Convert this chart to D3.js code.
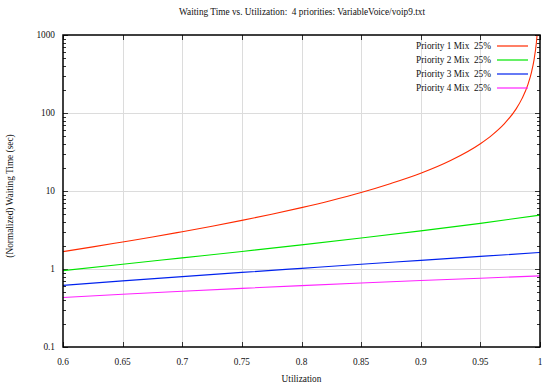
<!DOCTYPE html>
<html>
<head>
<meta charset="utf-8">
<script src="https://cdn.jsdelivr.net/npm/d3@7"></script>
<style>
  html, body { margin: 0; padding: 0; background: #fff; }
  svg { display: block; font-family: "Liberation Serif", "Times New Roman", serif; }
  svg text { white-space: pre; }
</style>
</head>
<body>
<svg id="chart" width="542" height="385"></svg>
<script>
// Mean waiting time per priority class versus server utilization
const utilRed = [0.60, 0.625, 0.65, 0.675, 0.70, 0.725, 0.75, 0.775, 0.80, 0.825, 0.85, 0.875,
                 0.90, 0.925, 0.95, 0.96, 0.97, 0.98, 0.985, 0.99, 0.993, 0.995, 0.997, 0.998];
const waitP1 = [1.67, 1.92, 2.22, 2.57, 3.01, 3.54, 4.20, 5.03, 6.12, 7.57, 9.57, 12.5,
                16.9, 24.6, 40.4, 52.5, 72.6, 113, 154, 235, 340, 480, 806, 1214];

const util = [0.60, 0.65, 0.70, 0.75, 0.80, 0.85, 0.90, 0.95, 1.00];
const waitP2 = [0.954, 1.15, 1.39, 1.68, 2.04, 2.50, 3.08, 3.85, 4.90];
const waitP3 = [0.617, 0.704, 0.799, 0.904, 1.02, 1.15, 1.29, 1.45, 1.63];
const waitP4 = [0.432, 0.475, 0.519, 0.565, 0.612, 0.661, 0.711, 0.762, 0.816];

const seriesNames = ["Priority 1 Mix  25%", "Priority 2 Mix  25%", "Priority 3 Mix  25%", "Priority 4 Mix  25%"];
const seriesColors = ["#ff2a00", "#00e600", "#0022ee", "#ff22ff"];

const xTicks = [0.6, 0.65, 0.7, 0.75, 0.8, 0.85, 0.9, 0.95, 1];
const xTickLabels = ["0.6", "0.65", "0.7", "0.75", "0.8", "0.85", "0.9", "0.95", "1"];
const yTicks = [0.1, 1, 10, 100, 1000];
const yTickLabels = ["0.1", "1", "10", "100", "1000"];

const titleText = "Waiting Time vs. Utilization:  4 priorities: VariableVoice/voip9.txt";
const xTitle = "Utilization";
const yTitle = "(Normalized) Waiting Time (sec)";

const FS = 9.3;
const svg = d3.select("#chart");
const L = 63, R = 540, T = 35, B = 347;

const x = d3.scaleLinear().domain([0.6, 1]).range([L, R]);
const y = d3.scaleLog().domain([0.1, 1000]).range([B, T]);

// minor log ticks 2..9 in each decade
const minorY = [];
for (let d = 0.1; d < 1000; d *= 10) {
  for (let k = 2; k <= 9; k++) minorY.push(+(d * k).toPrecision(3));
}

// grid
const grid = svg.append("g").attr("stroke", "#dcdcdc").attr("stroke-width", 1);
xTicks.slice(1, -1).forEach(v => {
  grid.append("line").attr("x1", Math.round(x(v)) + 0.5).attr("x2", Math.round(x(v)) + 0.5)
    .attr("y1", T).attr("y2", B);
});
yTicks.slice(1, -1).forEach(v => {
  grid.append("line").attr("x1", L).attr("x2", R)
    .attr("y1", Math.round(y(v)) + 0.5).attr("y2", Math.round(y(v)) + 0.5);
});

// ticks (inward, mirrored on opposite sides)
const ticks = svg.append("g").attr("stroke", "#333").attr("stroke-width", 1);
xTicks.forEach(v => {
  const px = Math.round(x(v)) + 0.5;
  ticks.append("line").attr("x1", px).attr("x2", px).attr("y1", B).attr("y2", B - 5);
  ticks.append("line").attr("x1", px).attr("x2", px).attr("y1", T).attr("y2", T + 5);
});
yTicks.forEach(v => {
  const py = Math.round(y(v)) + 0.5;
  ticks.append("line").attr("x1", L).attr("x2", L + 5).attr("y1", py).attr("y2", py);
  ticks.append("line").attr("x1", R).attr("x2", R - 5).attr("y1", py).attr("y2", py);
});
minorY.forEach(v => {
  const py = Math.round(y(v)) + 0.5;
  ticks.append("line").attr("x1", L).attr("x2", L + 3).attr("y1", py).attr("y2", py);
  ticks.append("line").attr("x1", R).attr("x2", R - 3).attr("y1", py).attr("y2", py);
});

// curves, clipped to the plot frame
svg.append("clipPath").attr("id", "plotClip")
  .append("rect").attr("x", L).attr("y", T).attr("width", R - L).attr("height", B - T);

const line = d3.line().x(d => x(d[0])).y(d => y(d[1])).curve(d3.curveMonotoneX);
const seriesData = [
  utilRed.map((u, i) => [u, waitP1[i]]),
  util.map((u, i) => [u, waitP2[i]]),
  util.map((u, i) => [u, waitP3[i]]),
  util.map((u, i) => [u, waitP4[i]])
];
const curves = svg.append("g").attr("clip-path", "url(#plotClip)");
seriesData.forEach((d, i) => {
  curves.append("path").datum(d).attr("d", line)
    .attr("fill", "none").attr("stroke", seriesColors[i]).attr("stroke-width", 1.1);
});

// border
svg.append("rect").attr("x", L).attr("y", T).attr("width", R - L).attr("height", B - T)
  .attr("fill", "none").attr("stroke", "#000").attr("stroke-width", 1.5);

// tick labels
svg.append("g").selectAll("text").data(xTicks).join("text")
  .attr("x", d => x(d)).attr("y", 364.5).attr("text-anchor", "middle")
  .attr("font-size", FS).attr("fill", "#111")
  .text((d, i) => xTickLabels[i]);
svg.append("g").selectAll("text").data(yTicks).join("text")
  .attr("x", 55).attr("y", d => y(d) + 3.3).attr("text-anchor", "end")
  .attr("font-size", FS).attr("fill", "#111")
  .text((d, i) => yTickLabels[i]);

// titles
svg.append("text").attr("x", 302).attr("y", 14.5).attr("text-anchor", "middle")
  .attr("font-size", FS).attr("fill", "#111").text(titleText);
svg.append("text").attr("x", 301.5).attr("y", 382).attr("text-anchor", "middle")
  .attr("font-size", FS).attr("fill", "#111").text(xTitle);
svg.append("text").attr("transform", "translate(13,196) rotate(-90)").attr("text-anchor", "middle")
  .attr("font-size", FS).attr("fill", "#111").text(yTitle);

// legend
const legend = svg.append("g");
seriesNames.forEach((name, i) => {
  const ly = 46 + i * 14;
  legend.append("text").attr("x", 491).attr("y", ly + 3.3).attr("text-anchor", "end")
    .attr("font-size", FS).attr("fill", "#111").text(name);
  legend.append("line").attr("x1", 497).attr("x2", 528).attr("y1", ly).attr("y2", ly)
    .attr("stroke", seriesColors[i]).attr("stroke-width", 2).attr("stroke-opacity", 0.6);
});
</script>
</body>
</html>
